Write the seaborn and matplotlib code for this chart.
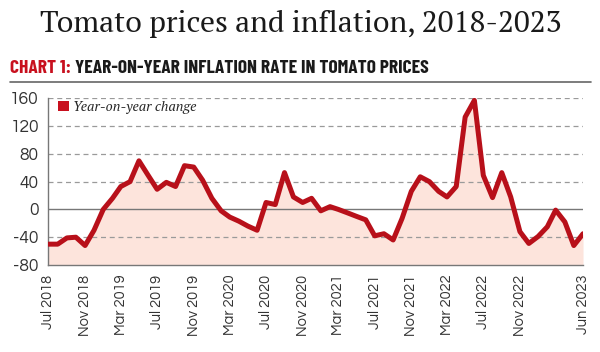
import numpy as np
import pandas as pd
import seaborn as sns
import matplotlib.pyplot as plt
from matplotlib.patches import Patch

# monthly y-o-y inflation in tomato prices, Jul 2018 - Jun 2023
months = pd.date_range('2018-07-01', '2023-06-01', freq='MS')
yoy_change = [-50, -50, -41, -40, -52, -30, 0, 16, 33, 40,
              70, 49, 29, 39, 33, 63, 61, 42, 16, -2,
              -11, -17, -24, -30, 10, 7, 53, 18, 10, 16,
              -2, 4, 0, -5, -10, -15, -38, -35, -44, -13,
              26, 47, 40, 26, 18, 33, 133, 157, 49, 17,
              53, 18, -32, -49, -39, -25, -1, -18, -52, -35]
tick_dates = ['2018-07', '2018-11', '2019-03', '2019-07', '2019-11', '2020-03',
              '2020-07', '2020-11', '2021-03', '2021-07', '2021-11', '2022-03',
              '2022-07', '2022-11', '2023-06']
y_ticks = [-80, -40, 0, 40, 80, 120, 160]

df = pd.DataFrame({'month': months, 'change': yoy_change})

line_red = '#b8101a'
fill_pink = '#fde4dc'
grid_grey = '#9a9a9a'
tick_font = ['Questrial', 'DejaVu Sans']
head_font = ['Barlow Condensed', 'Roboto Condensed', 'DejaVu Sans']

sns.set_style('white')
plt.rcParams['font.family'] = tick_font

fig = plt.figure(figsize=(6, 3.52), dpi=100)
ax = fig.add_axes([0.0808, 0.2472, 0.8909, 0.4735])

ax.fill_between(df['month'], df['change'], -80, color=fill_pink, lw=0, zorder=1)
for y in y_ticks[1:]:
    if y == 0:
        ax.axhline(y, color='#777777', lw=1.0, zorder=2)
    else:
        ax.axhline(y, color=grid_grey, lw=0.9, ls=(0, (4, 3)), zorder=2)
sns.lineplot(data=df, x='month', y='change', ax=ax, color=line_red, lw=3.6,
             zorder=3)

ax.set_ylim(-80, 160)
ax.set_xlim(months[0], months[-1])
ax.set_yticks(y_ticks)
ax.set_yticklabels([str(v) for v in y_ticks], fontsize=12.5, color='#333333')
xt = pd.to_datetime(tick_dates)
ax.set_xticks(xt)
ax.set_xticklabels([d.strftime('%b %Y') for d in xt], rotation=90,
                   fontsize=10.5, color='#333333')
ax.tick_params(axis='both', length=5, width=1, color='#777777', pad=2,
               direction='out')
ax.set_xlabel('')
ax.set_ylabel('')
for s in ['top', 'right']:
    ax.spines[s].set_visible(False)
for s in ['left', 'bottom']:
    ax.spines[s].set_color('#777777')
    ax.spines[s].set_linewidth(1)

ax.legend(handles=[Patch(facecolor='#c8101e', edgecolor='none',
                         label='Year-on-year change')],
          loc='upper left', bbox_to_anchor=(0.0, 1.045), frameon=False,
          handlelength=0.75, handleheight=0.75, handletextpad=0.3,
          borderaxespad=0.3,
          prop={'family': 'PT Serif', 'style': 'italic', 'size': 10})

fig.text(0.502, 0.91, 'Tomato prices and inflation, 2018-2023',
         ha='center', va='baseline', fontsize=21.5, family='PT Serif',
         color='#1a1a1a')
t1 = fig.text(0.017, 0.7935, 'CHART 1: ', ha='left', va='baseline',
              fontsize=14, weight='bold', color='#c8101e', family=head_font)
fig.canvas.draw()
bb = t1.get_window_extent()
fig.text(bb.x1 / fig.bbox.width, 0.7935,
         'YEAR-ON-YEAR INFLATION RATE IN TOMATO PRICES', ha='left',
         va='baseline', fontsize=14, weight='bold', color='#1a1a1a',
         family=head_font)
fig.add_artist(plt.Line2D([0.017, 0.985], [0.766, 0.766], color='#666666',
                          lw=1.2, transform=fig.transFigure))

fig.savefig('out.png', dpi=100)
